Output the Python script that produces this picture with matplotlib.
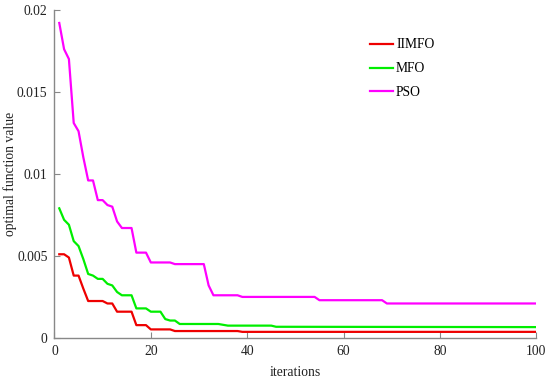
import matplotlib
matplotlib.use("Agg")
import matplotlib.pyplot as plt
from matplotlib.ticker import FuncFormatter

plt.rcParams['font.family'] = ['Liberation Serif', 'DejaVu Serif']

# IIMFO (corner points of the convergence curve)
iimfo_iter = [1, 2, 3, 4, 5, 6, 7, 10, 11, 12, 13, 16, 17, 19, 20, 24, 25, 38, 39, 100]
iimfo_val = [0.0051, 0.0051, 0.0049, 0.0038, 0.0038, 0.0030, 0.00225, 0.00225, 0.0021, 0.0021,
             0.0016, 0.0016, 0.00078, 0.00078, 0.00052, 0.00052, 0.00042, 0.00042, 0.00037, 0.00037]

# MFO
mfo_iter = [1, 2, 3, 4, 5, 6, 7, 8, 9, 10, 11, 12, 13, 14, 16, 17, 19, 20, 22, 23, 24, 25, 26,
            34, 36, 45, 46, 100]
mfo_val = [0.0079, 0.0072, 0.0069, 0.0059, 0.0056, 0.0048, 0.0039, 0.0038, 0.0036, 0.0036,
           0.0033, 0.0032, 0.0028, 0.0026, 0.0026, 0.0018, 0.0018, 0.0016, 0.0016, 0.00115,
           0.00106, 0.00106, 0.00085, 0.00085, 0.00075, 0.00075, 0.00068, 0.00066]

# PSO
pso_iter = [1, 2, 3, 4, 5, 6, 7, 8, 9, 10, 11, 12, 13, 14, 16, 17, 19, 20, 24, 25, 31, 32, 33,
            38, 39, 54, 55, 68, 69, 100]
pso_val = [0.0192, 0.0176, 0.0170, 0.0131, 0.0126, 0.0110, 0.0096, 0.0096, 0.0084, 0.0084,
           0.0081, 0.0080, 0.0071, 0.0067, 0.0067, 0.0052, 0.0052, 0.0046, 0.0046, 0.0045,
           0.0045, 0.0032, 0.0026, 0.0026, 0.0025, 0.0025, 0.0023, 0.0023, 0.0021, 0.0021]

x_ticks = [0, 20, 40, 60, 80, 100]
y_ticks = [0, 0.005, 0.01, 0.015, 0.02]

fig = plt.figure(figsize=(5.5, 3.78), dpi=100)
ax = fig.add_axes([0.099, 0.106, 0.876, 0.868])

ax.plot(iimfo_iter, iimfo_val, color='#ee0000', lw=1.6, label='IIMFO')
ax.plot(mfo_iter, mfo_val, color='#00ee00', lw=1.6, label='MFO')
ax.plot(pso_iter, pso_val, color='#ff00ff', lw=1.6, label='PSO')

ax.set_xlim(0, 100)
ax.set_ylim(0, 0.02)
ax.set_xticks(x_ticks)
ax.set_yticks(y_ticks)
ax.yaxis.set_major_formatter(FuncFormatter(lambda v, p: '%g' % v))

for s in ['top', 'right']:
    ax.spines[s].set_visible(False)
for s in ['left', 'bottom']:
    ax.spines[s].set_color('#888888')
    ax.spines[s].set_linewidth(1.0)
ax.tick_params(direction='in', length=4, color='#888888', labelsize=9.8,
               labelcolor='#222222')
ax.tick_params(axis='y', pad=5)
ax.tick_params(axis='x', pad=5)

ax.set_xlabel('iterations', fontsize=9.8, color='#222222')
ax.set_ylabel('optimal function value', fontsize=9.8, color='#222222')
ax.xaxis.set_label_coords(0.5, -0.085)
ax.yaxis.set_label_coords(-0.078, 0.5)

leg = ax.legend(loc='upper left', bbox_to_anchor=(0.63, 0.95), frameon=False,
                fontsize=9.8, handlelength=1.7, handletextpad=0.2, labelspacing=0.8)

fig.savefig('out.png', dpi=100)
